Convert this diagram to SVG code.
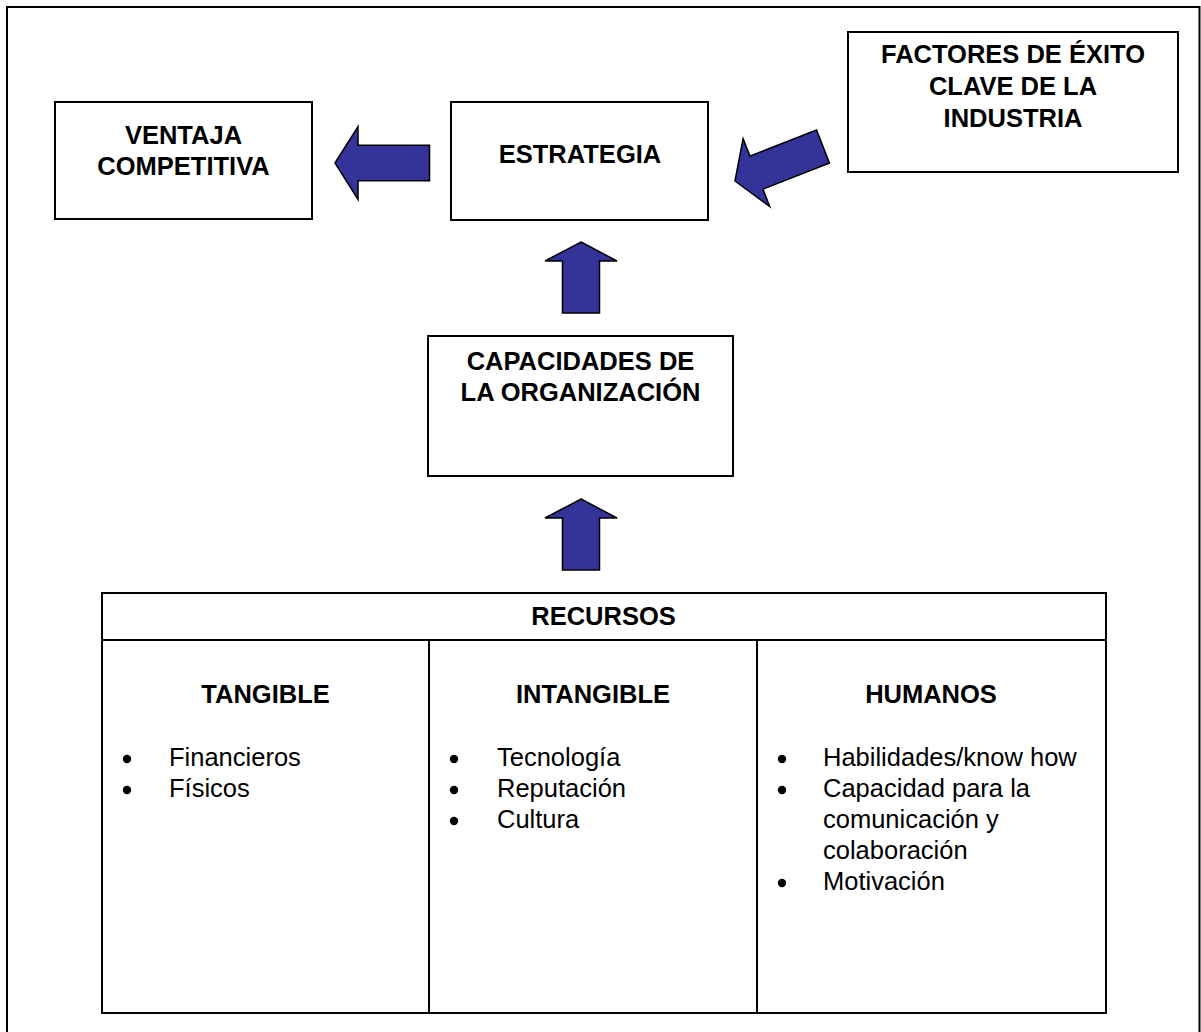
<svg xmlns="http://www.w3.org/2000/svg" width="1201" height="1032" viewBox="0 0 1201 1032">
  <defs>
    <style>
      .box { fill: #ffffff; stroke: #000000; stroke-width: 2; }
      .line { fill: none; stroke: #000000; stroke-width: 2; }
      .arrow { fill: #333399; stroke: #000000; stroke-width: 1.5; stroke-linejoin: miter; }
      .title { font-family: "Liberation Sans", Arial, sans-serif; font-weight: bold; font-size: 25.5px; text-anchor: middle; fill: #000000; }
      .item { font-family: "Liberation Sans", Arial, sans-serif; font-size: 25.5px; fill: #000000; }
      .dot { fill: #000000; }
    </style>
    <!-- block arrow pointing left, tip at origin -->
    <path id="arrowLeft" d="M0,0 L23,-36.5 L23,-17.75 L94.5,-17.75 L94.5,17.75 L23,17.75 L23,36.5 Z"/>
    <!-- block arrow pointing up, tip at origin -->
    <path id="arrowUp" d="M0,0 L36,19 L18.5,19 L18.5,71 L-18.5,71 L-18.5,19 L-36,19 Z"/>
  </defs>

  <rect width="1201" height="1032" fill="#ffffff"/>

  <!-- outer frame (open at the bottom edge) -->
  <path class="line" d="M7,1032 V7 H1199.5 V1032"/>

  <g id="ventaja">
    <rect class="box" x="55" y="102" width="257" height="117"/>
    <text class="title" x="183.5" y="144">VENTAJA</text>
    <text class="title" x="183.5" y="175">COMPETITIVA</text>
  </g>

  <g id="estrategia">
    <rect class="box" x="451" y="102" width="257" height="118"/>
    <text class="title" x="580" y="163">ESTRATEGIA</text>
  </g>

  <g id="factores">
    <rect class="box" x="848" y="32" width="330" height="140"/>
    <text class="title" x="1013" y="63">FACTORES DE ÉXITO</text>
    <text class="title" x="1013" y="95">CLAVE DE LA</text>
    <text class="title" x="1013" y="127">INDUSTRIA</text>
  </g>

  <g id="capacidades">
    <rect class="box" x="428" y="336" width="305" height="140"/>
    <text class="title" x="580.5" y="370">CAPACIDADES DE</text>
    <text class="title" x="580.5" y="401">LA ORGANIZACIÓN</text>
  </g>

  <g id="recursos">
    <rect class="box" x="102" y="593" width="1004" height="420"/>
    <line class="line" x1="102" y1="640" x2="1106" y2="640"/>
    <line class="line" x1="429" y1="640" x2="429" y2="1013"/>
    <line class="line" x1="757" y1="640" x2="757" y2="1013"/>
    <text class="title" x="603.5" y="625">RECURSOS</text>

    <g id="tangible">
      <text class="title" x="265.5" y="703">TANGIBLE</text>
      <circle class="dot" cx="127" cy="759" r="4.2"/>
      <text class="item" x="169" y="766">Financieros</text>
      <circle class="dot" cx="127" cy="790" r="4.2"/>
      <text class="item" x="169" y="797">Físicos</text>
    </g>

    <g id="intangible">
      <text class="title" x="593" y="703">INTANGIBLE</text>
      <circle class="dot" cx="454" cy="759" r="4.2"/>
      <text class="item" x="497" y="766">Tecnología</text>
      <circle class="dot" cx="454" cy="790" r="4.2"/>
      <text class="item" x="497" y="797">Reputación</text>
      <circle class="dot" cx="454" cy="821" r="4.2"/>
      <text class="item" x="497" y="828">Cultura</text>
    </g>

    <g id="humanos">
      <text class="title" x="931" y="703">HUMANOS</text>
      <circle class="dot" cx="782" cy="759" r="4.2"/>
      <text class="item" x="823" y="766">Habilidades/know how</text>
      <circle class="dot" cx="782" cy="790" r="4.2"/>
      <text class="item" x="823" y="797">Capacidad para la</text>
      <text class="item" x="823" y="828">comunicación y</text>
      <text class="item" x="823" y="859">colaboración</text>
      <circle class="dot" cx="782" cy="883" r="4.2"/>
      <text class="item" x="823" y="890">Motivación</text>
    </g>
  </g>

  <g id="connectors">
    <use href="#arrowLeft" class="arrow" transform="translate(335,163)"/>
    <use href="#arrowLeft" class="arrow" transform="translate(735,181) rotate(-21.4)"/>
    <use href="#arrowUp" class="arrow" transform="translate(581,242)"/>
    <use href="#arrowUp" class="arrow" transform="translate(581,499)"/>
  </g>
</svg>
